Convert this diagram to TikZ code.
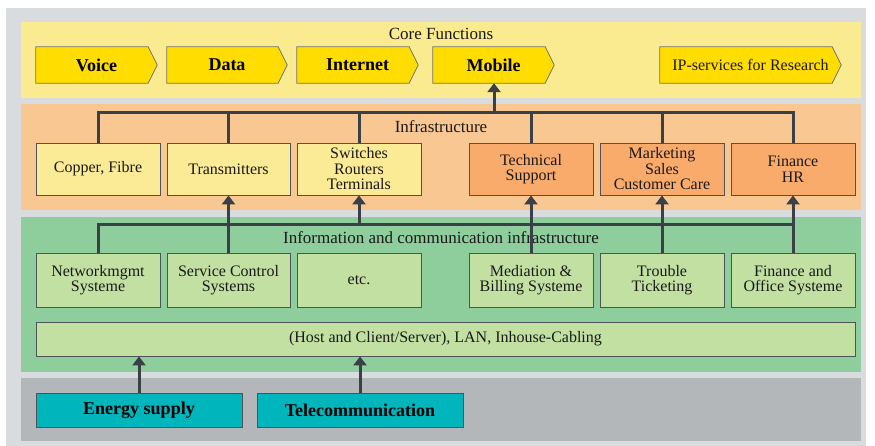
\documentclass[tikz,border=0pt]{standalone}
\usepackage{fontspec}
\setmainfont{Liberation Serif}
\usetikzlibrary{calc,arrows.meta}
\pgfdeclarelayer{bg}
\pgfsetlayers{bg,main}
\definecolor{outergray}{HTML}{D9DCDE}
\definecolor{bandY}{HTML}{FAEA90}
\definecolor{coreY}{HTML}{FFDD00}
\definecolor{bandO}{HTML}{F9C792}
\definecolor{boxY}{HTML}{FBEB96}
\definecolor{boxO}{HTML}{F9AB6B}
\definecolor{bandG}{HTML}{8ECD9C}
\definecolor{boxG}{HTML}{C3E0A3}
\definecolor{bandGr}{HTML}{B3B7BA}
\definecolor{tealc}{HTML}{00B6BC}
\definecolor{linec}{HTML}{3B4046}
\tikzset{
  txt/.style={font=\fontsize{16}{15.5}\selectfont, text=black!90, align=center},
  ttl/.style={font=\fontsize{17}{18}\selectfont, text=black!90},
  boldtxt/.style={font=\fontsize{18}{19}\selectfont\bfseries, text=black},
  box/.style={txt, draw=linec!90, line width=0.9pt, inner sep=0pt},
  coreshape/.style={fill=coreY, draw=black!55, line width=0.8pt},
  bus/.style={draw=linec, line width=3pt},
  uparrow/.style={draw=linec, line width=3pt, -{Triangle[width=13pt,length=9pt]}},
}
\begin{document}
\begin{tikzpicture}[x=1pt,y=-1pt]
\useasboundingbox (0,0) rectangle (875,446);
% bands
\begin{pgfonlayer}{bg}
\fill[outergray] (6,8) rectangle (866,446);
\fill[bandY] (21,22) rectangle (861,98);
\fill[bandO] (21,104) rectangle (861,210);
\fill[bandG] (21,217) rectangle (861,372);
\fill[bandGr] (21,378) rectangle (861,441);
\end{pgfonlayer}
% band titles
\node[ttl] (tcore) at (441,34) {Core Functions};
\node[ttl] (tinfra) at (441,127) {Infrastructure};
\node[ttl] (tict) at (441,238) {Information and communication infrastructure};
% core functions (arrow shapes)
\foreach \nm/\cx/\w/\lab/\st in {voice/96.5/121/Voice/boldtxt, data/227/120/Data/boldtxt, internet/357.5/121/Internet/boldtxt, mobile/493.5/121/Mobile/boldtxt, ipres/750.5/181/IP-services for Research/txt}{
  \node[\st, minimum width=\w, minimum height=36, inner sep=0pt] (\nm) at (\cx,65) {\lab};
  \begin{pgfonlayer}{bg}
  \path[coreshape] (\nm.north west) -- ($(\nm.north east)+(-9,0)$) -- (\nm.east) -- ($(\nm.south east)+(-9,0)$) -- (\nm.south west) -- cycle;
  \end{pgfonlayer}
}
% infrastructure boxes
\node[box, fill=boxY, minimum width=124, minimum height=52] (copper) at (98,169) {Copper, Fibre};
\node[box, fill=boxY, minimum width=123, minimum height=52] (transm) at (228.5,169) {Transmitters};
\node[box, fill=boxY, minimum width=124, minimum height=52] (switch) at (359,169) {Switches\\Routers\\Terminals};
\node[box, fill=boxO, minimum width=124, minimum height=52] (tech) at (531,169) {Technical\\Support};
\node[box, fill=boxO, minimum width=124, minimum height=52] (mkt) at (662,169) {Marketing\\Sales\\Customer Care};
\node[box, fill=boxO, minimum width=124, minimum height=52] (finhr) at (793,169) {Finance\\HR};
% ICT boxes
\node[box, fill=boxG, minimum width=124, minimum height=54] (netw) at (98,280) {Networkmgmt\\Systeme};
\node[box, fill=boxG, minimum width=123, minimum height=54] (serv) at (228.5,280) {Service Control\\Systems};
\node[box, fill=boxG, minimum width=124, minimum height=54] (etc) at (359,280) {etc.};
\node[box, fill=boxG, minimum width=124, minimum height=54] (med) at (531,280) {Mediation \&\\Billing Systeme};
\node[box, fill=boxG, minimum width=124, minimum height=54] (trouble) at (662,280) {Trouble\\Ticketing};
\node[box, fill=boxG, minimum width=124, minimum height=54] (finoff) at (793,280) {Finance and\\Office Systeme};
\node[box, fill=boxG, minimum width=819, minimum height=34] (lan) at (445.5,339) {(Host and Client/Server), LAN, Inhouse-Cabling};
% base
\node[box, boldtxt, fill=tealc, minimum width=206, minimum height=34] (energy) at (139,410) {Energy supply};
\node[box, boldtxt, fill=tealc, minimum width=206, minimum height=34] (telecom) at (360,410) {Telecommunication};
% infrastructure bus
\coordinate (ob) at (0,113);
\draw[bus] (copper.north) -- (copper.north |- ob) -- (finhr.north |- ob) -- (finhr.north);
\foreach \b in {transm, switch, tech, mkt}{\draw[bus] (\b.north) -- (\b.north |- ob);}
\coordinate (mobx) at (494,113);
\draw[uparrow] (mobx) -- (mobx |- mobile.south);
% ICT bus
\coordinate (gb) at (0,225);
\draw[bus] (netw.north) -- (netw.north |- gb) -- (finoff.north |- gb);
\draw[uparrow] (serv.north) -- (transm.south);
\draw[uparrow] (switch.south |- gb) -- (switch.south);
\draw[uparrow] (med.north) -- (tech.south);
\draw[uparrow] (trouble.north) -- (mkt.south);
\draw[uparrow] (finoff.north) -- (finhr.south);
% base arrows
\draw[uparrow] (energy.north) -- (energy.north |- lan.south);
\draw[uparrow] (telecom.north) -- (telecom.north |- lan.south);
\end{tikzpicture}
\end{document}
